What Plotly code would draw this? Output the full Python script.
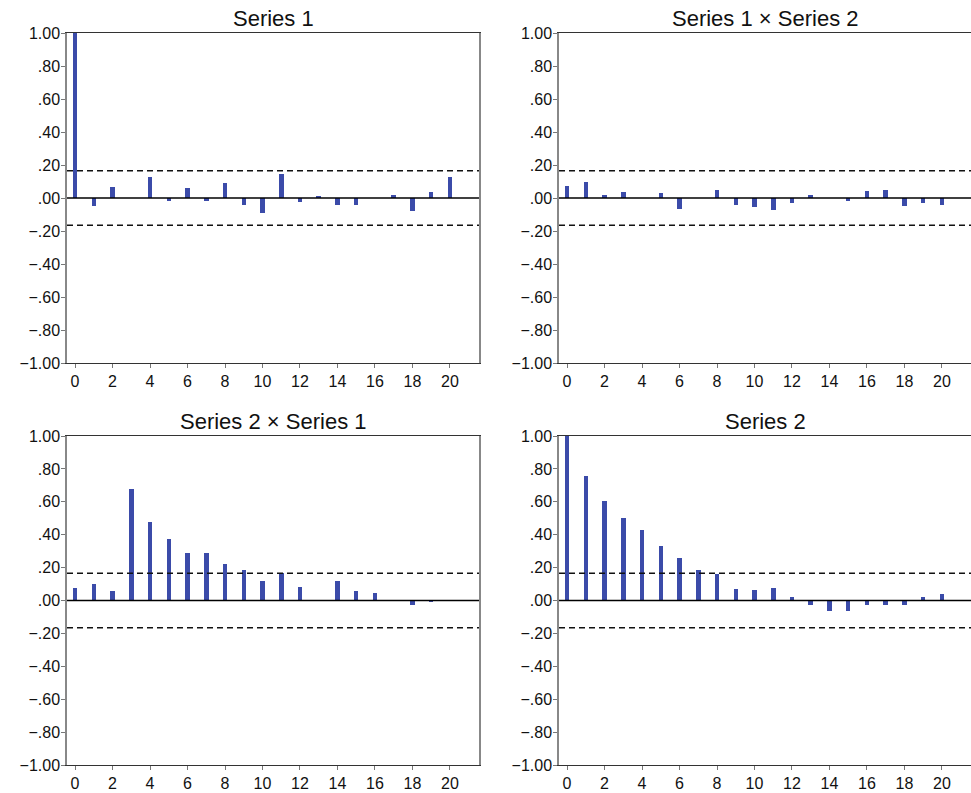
import plotly.graph_objects as go

lags = list(range(21))
series1 = [1.0, -0.047, 0.067, 0.0, 0.128, -0.016, 0.061, -0.016, 0.091, -0.04, -0.089,
           0.146, -0.022, 0.012, -0.04, -0.04, 0.0, 0.02, -0.077, 0.036, 0.128]
s1_x_s2 = [0.073, 0.097, 0.018, 0.036, 0.0, 0.03, -0.065, 0.0, 0.049, -0.04, -0.053,
           -0.071, -0.028, 0.018, 0.0, -0.016, 0.043, 0.049, -0.047, -0.028, -0.04]
s2_x_s1 = [0.077, 0.103, 0.059, 0.678, 0.478, 0.374, 0.289, 0.289, 0.223, 0.186, 0.119,
           0.168, 0.083, 0.0, 0.119, 0.059, 0.047, 0.0, -0.03, -0.012, 0.0]
series2 = [1.0, 0.757, 0.605, 0.502, 0.429, 0.332, 0.259, 0.186, 0.162, 0.071, 0.065,
           0.077, 0.022, -0.03, -0.061, -0.061, -0.03, -0.03, -0.03, 0.022, 0.04]
titles = ["Series 1", "Series 1 \u00d7 Series 2", "Series 2 \u00d7 Series 1", "Series 2"]
panels = [series1, s1_x_s2, s2_x_s1, series2]
conf_limit = 0.165

ytickvals = [1.0, 0.8, 0.6, 0.4, 0.2, 0.0, -0.2, -0.4, -0.6, -0.8, -1.0]
yticktext = ["1.00", ".80", ".60", ".40", ".20", ".00", "\u2212.20", "\u2212.40",
             "\u2212.60", "\u2212.80", "\u22121.00"]
xtickvals = list(range(0, 21, 2))

W, H = 971, 793
xdoms = [[67 / W, 479 / W], [559 / W, 1.0]]
ydoms = [[1 - 363 / H, 1 - 33 / H], [1 - 765 / H, 1 - 436 / H]]

bar_color = "#3b4ba9"
font = "Liberation Sans, Arial, sans-serif"

fig = go.Figure()
for i, (vals, title) in enumerate(zip(panels, titles)):
    row, col = divmod(i, 2)
    n = i + 1
    xa = "x" if n == 1 else f"x{n}"
    ya = "y" if n == 1 else f"y{n}"
    fig.add_trace(go.Bar(x=lags, y=vals, width=0.24, marker_color=bar_color,
                         marker_line_width=0, xaxis=xa, yaxis=ya, showlegend=False))
    xkey = "xaxis" if n == 1 else f"xaxis{n}"
    ykey = "yaxis" if n == 1 else f"yaxis{n}"
    fig.update_layout({
        xkey: dict(domain=xdoms[col], anchor=ya, range=[-0.43, 21.55], automargin=False,
                   tickvals=xtickvals, ticks="outside", ticklen=4, tickcolor="#777",
                   showline=True, linecolor="#333", linewidth=1, mirror=True,
                   showgrid=False, zeroline=False,
                   tickfont=dict(family=font, size=16, color="#111")),
        ykey: dict(domain=ydoms[row], anchor=xa, range=[-1.0, 1.0], automargin=False,
                   tickvals=ytickvals, ticktext=yticktext, ticks="outside", ticklen=4,
                   tickcolor="#777", showline=True, linecolor="#888", linewidth=1.5,
                   mirror=True, showgrid=False, zeroline=False, ticklabelstandoff=-2,
                   tickfont=dict(family=font, size=16, color="#111")),
    })
    for yv, dash, color, wdt in [(0.0, "solid", "#000", 1.6),
                                 (conf_limit, "6px,4px", "#111", 1.5),
                                 (-conf_limit, "6px,4px", "#111", 1.5)]:
        fig.add_shape(type="line", xref=f"{xa} domain", yref=ya, x0=0, x1=1, y0=yv, y1=yv,
                      line=dict(color=color, width=wdt, dash=dash), layer="above")
    fig.add_annotation(text=title, xref=f"{xa} domain", yref=f"{ya} domain", x=0.5, y=1,
                       xanchor="center", yanchor="bottom", yshift=1, borderpad=0,
                       showarrow=False, font=dict(family=font, size=22, color="#111"))

fig.update_layout(width=W, height=H, margin=dict(l=0, r=0, t=0, b=0, autoexpand=False),
                  plot_bgcolor="white", paper_bgcolor="white", bargap=0)
fig.write_html("out.html", config={"displayModeBar": False},
               post_script="document.body.style.margin='0';document.body.style.overflow='hidden';")
